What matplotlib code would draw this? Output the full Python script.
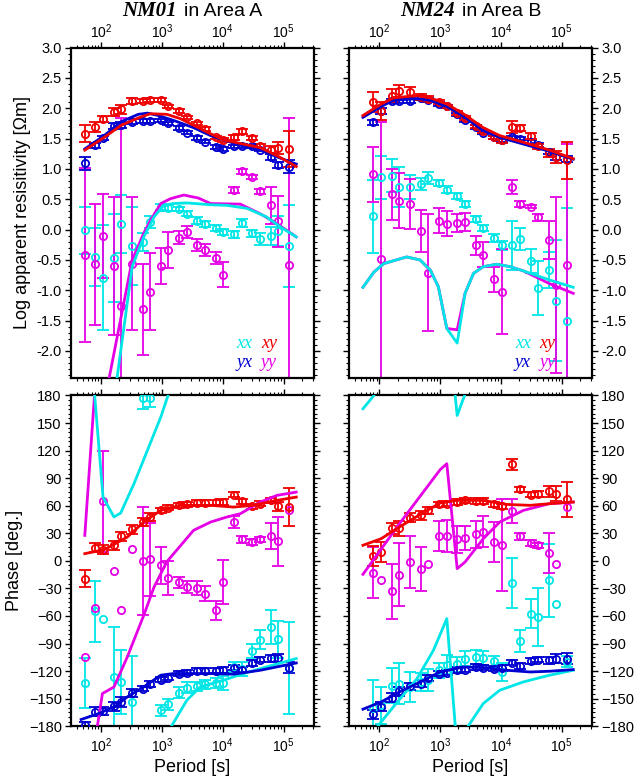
import numpy as np
import matplotlib.pyplot as plt
from matplotlib.ticker import MultipleLocator, LogLocator, NullFormatter, FormatStrFormatter
from matplotlib.offsetbox import TextArea, HPacker, AnchoredOffsetbox

plt.rcParams['font.family'] = ['Liberation Sans', 'DejaVu Sans']

C_XX = '#00e6e6'
C_XY = '#f00000'
C_YX = '#0000d0'
C_YY = '#e600e6'

# ---- periods [s]
period_a = [53.3, 80, 106.7, 160, 213.3, 320, 480, 640, 960, 1280, 1920, 2560, 3840, 5120,
            7680, 10240, 15360, 20480, 30720, 40960, 61440, 81920, 122880]
period_b = [80, 106.7, 160, 213.3, 320, 480, 640, 960, 1280, 1920, 2560, 3840, 5120,
            7680, 10240, 15360, 20480, 30720, 40960, 61440, 81920, 122880]

# ---- NM01 apparent resistivity (log10)
a_rho_xy = [1.58, 1.69, 1.82, 1.94, 1.98, 2.12, 2.12, 2.14, 2.14, 2.03, 1.95, 1.85, 1.75, 1.66,
            1.52, 1.48, 1.52, 1.62, 1.51, 1.37, 1.32, 1.35, 1.33]
a_rho_xy_err = [0.14, 0.08, 0.05, 0.06, 0.08, 0.05, 0.03, 0.03, 0.03, 0.03, 0.03, 0.03, 0.03, 0.03,
                0.03, 0.03, 0.04, 0.04, 0.04, 0.04, 0.06, 0.1, 0.3]
a_rho_yx = [1.09, 1.39, 1.51, 1.71, 1.73, 1.78, 1.79, 1.79, 1.80, 1.75, 1.67, 1.60, 1.51, 1.45,
            1.36, 1.33, 1.37, 1.38, 1.37, 1.32, 1.20, 1.07, 1.04]
a_rho_yx_err = [0.1, 0.04, 0.04, 0.05, 0.05, 0.04, 0.03, 0.03, 0.03, 0.03, 0.03, 0.03, 0.03, 0.03,
                0.03, 0.03, 0.03, 0.03, 0.03, 0.03, 0.05, 0.05, 0.1]
a_rho_xx = [-0.01, -0.45, -0.79, -0.47, 0.09, -0.27, -0.21, 0.12, 0.37, 0.36, 0.34, 0.26, 0.15, 0.10,
            0.02, -0.04, -0.08, 0.11, -0.06, -0.16, -0.11, -0.02, -0.27]
a_rho_xx_err = [0.39, 0.48, 0.87, 0.72, 0.48, 0.65, 0.15, 0.1, 0.05, 0.05, 0.04, 0.04, 0.05, 0.05,
                0.05, 0.05, 0.05, 0.06, 0.06, 0.1, 0.15, 0.25, 0.67]
a_rho_yy = [-0.42, -0.57, -0.11, -0.60, -1.26, -0.56, -1.31, -1.02, -0.60, -0.34, -0.13, -0.04, -0.26,
            -0.33, -0.47, -0.74, 0.65, 0.96, 0.87, 0.63, 0.40, 0.14, -0.59]
a_rho_yy_err = [1.43, 1.0, 0.69, 1.14, 3.1, 1.1, 0.75, 0.63, 0.3, 0.3, 0.1, 0.1, 0.1, 0.1,
                0.1, 0.2, 0.05, 0.04, 0.03, 0.04, 0.3, 0.42, 2.43]

# ---- NM01 phase [deg]
a_ph_xy = [-19.4, 14.3, 12.1, 16.9, 26.6, 34.3, 42.2, 47.7, 54.9, 57.8, 60.4, 61.4, 62.9, 62.9,
           63.6, 63.9, 72.0, 64.7, 59.3, 62.2, 65.8, 59.3, 58.5]
a_ph_xy_err = [9, 5, 5, 5, 5, 5, 4, 4, 3, 3, 3, 3, 3, 3, 3, 3, 3, 3, 3, 3, 3, 5, 21]
a_ph_yx = [-178.2, -164.4, -163.3, -158.3, -153.6, -143.8, -139.0, -134.3, -129.2, -127.1, -122.7,
           -121.6, -120.2, -119.9, -119.5, -119.1, -116.2, -118.4, -111.2, -107.5, -106.1, -105.7, -116.6]
a_ph_yx_err = [3, 5, 4, 5, 5, 4, 3, 3, 3, 3, 3, 3, 3, 3, 3, 3, 3, 3, 3, 3, 4, 4, 6]
a_ph_xx = [-132.9, -54.9, -62.9, -126.4, -131.8, -153.6, 177.5, 177.5, -162.6, -156.1, -143.8, -138.4,
           -136.5, -134.3, -132.9, -132.9, -115.5, -117.7, -98.1, -85.7, -72.0, -85.4, -116.6]
a_ph_xx_err = [27, 33, 0, 54, 35, 50, 12, 10, 6, 6, 6, 6, 5, 5, 5, 8, 5, 8, 8, 10, 18, 20, 50]
a_ph_yy = [-104.6, -50.9, 64.7, -11.3, -53.9, 13.3, -0.5, 1.6, -4.9, -18.7, -23.1, -28.5, -29.6,
           -35.7, -53.9, -23.1, 42.2, 23.4, 20.5, 23.4, 27.0, 21.2, 55]
a_ph_yy_err = [0, 0, 55, 0, 0, 0, 59, 40, 20, 19, 6, 6, 8, 8, 10, 24, 7, 4, 3, 3, 14, 27, 0]

# ---- NM24 apparent resistivity (log10)
b_rho_xy = [2.10, 1.95, 2.21, 2.29, 2.27, 2.18, 2.16, 2.10, 2.03, 1.92, 1.84, 1.70, 1.62, 1.52,
            1.47, 1.69, 1.68, 1.54, 1.37, 1.26, 1.20, 1.14]
b_rho_xy_err = [0.16, 0.15, 0.1, 0.1, 0.08, 0.05, 0.05, 0.03, 0.03, 0.03, 0.03, 0.03, 0.03, 0.03,
                0.04, 0.1, 0.05, 0.05, 0.04, 0.07, 0.1, 0.3]
b_rho_yx = [1.77, 1.95, 2.12, 2.12, 2.12, 2.17, 2.14, 2.07, 2.03, 1.90, 1.81, 1.69, 1.60, 1.52,
            1.47, 1.52, 1.50, 1.44, 1.39, 1.28, 1.20, 1.16]
b_rho_yx_err = [0.04, 0.05, 0.03, 0.03, 0.03, 0.03, 0.03, 0.03, 0.03, 0.03, 0.03, 0.03, 0.03, 0.03,
                0.03, 0.03, 0.03, 0.03, 0.03, 0.04, 0.05, 0.05]
b_rho_xx = [0.22, 0.86, 0.89, 0.70, 0.70, 0.75, 0.85, 0.77, 0.66, 0.55, 0.43, 0.18, 0.03, -0.14,
            -0.26, -0.26, -0.16, -0.52, -0.96, -0.67, -1.17, -1.51]
b_rho_xx_err = [0.6, 0.35, 0.27, 0.33, 0.2, 0.1, 0.1, 0.05, 0.06, 0.05, 0.05, 0.05, 0.05, 0.06,
                0.07, 0.4, 0.18, 0.2, 0.45, 0.3, 1.0, 1.86]
b_rho_yy = [0.91, -0.48, 0.58, 0.48, 0.42, -0.02, -0.71, 0.15, 0.10, 0.11, 0.12, -0.26, -0.41, -0.82,
            -1.02, 0.70, 0.43, 0.38, 0.20, -0.17, -0.91, -0.59]
b_rho_yy_err = [0.45, 2.25, 0.42, 0.45, 0.41, 0.35, 0.96, 0.2, 0.2, 0.15, 0.15, 0.15, 0.2, 0.2,
                0.7, 0.12, 0.05, 0.03, 0.05, 0.32, 1.45, 2.0]

# ---- NM24 phase [deg]
b_ph_xy = [4.9, 9.6, 35.7, 35.3, 47.0, 49.5, 54.9, 61.4, 62.2, 64.0, 65.8, 65.0, 65.0, 61.4,
           59.3, 104.9, 77.8, 72.0, 73.0, 75.9, 73.0, 66.9]
b_ph_xy_err = [11, 11, 6, 8, 5, 5, 4, 3, 3, 3, 3, 3, 3, 3, 3, 6, 3, 3, 3, 6, 8, 19]
b_ph_yx = [-167, -159, -149.2, -142, -136.5, -133.6, -127.5, -122.7, -121.6, -119.1, -118.4, -115.5,
           -116.2, -117.3, -116.6, -110.8, -114.4, -109.3, -107.5, -108.2, -106.4, -106.4]
b_ph_yx_err = [5, 5, 5, 5, 4, 4, 3, 3, 3, 3, 3, 3, 3, 3, 3, 3, 3, 3, 3, 4, 5, 6]
b_ph_xx = [-160, -157.2, -136.2, -133.6, -137.3, -131.8, -130, -119.1, -112.9, -112.5, -106.4,
           -104.6, -105.7, -109.3, -121, -24.0, -87.6, -57.4, -61.1, -21.2, -46.6, -110]
b_ph_xx_err = [30, 20, 19, 22, 16, 10, 12, 8, 10, 8, 8, 8, 8, 6, 10, 27, 12, 16, 32, 40, 0, 6]
b_ph_yy = [-12.9, -21.2, -33.2, -15.0, -1.3, -9.3, -3.1, 27.0, 27.0, 23.4, 25.2, 28.8, 31.7, 20.5,
           17.6, 53.8, 26.6, 19.4, 16.9, 8.5, -3.8, 58.5]
b_ph_yy_err = [28, 0, 30, 34, 28, 24, 0, 16, 17, 15, 13, 15, 17, 22, 50, 13, 4, 3, 3, 22, 0, 0]

# ---- model responses (log10 period, value); nan breaks a wrapped phase line
a_mod_rho_xy_t = [1.73, 2.05, 2.33, 2.61, 2.81, 3.08, 3.30, 3.52, 3.80, 4.01, 4.29, 4.62, 4.89, 5.21]
a_mod_rho_xy = [1.31, 1.52, 1.72, 1.84, 1.91, 1.90, 1.83, 1.72, 1.58, 1.48, 1.42, 1.35, 1.22, 1.04]
a_mod_rho_yx_t = [1.73, 2.05, 2.33, 2.61, 2.76, 2.94, 3.19, 3.52, 3.80, 4.01, 4.29, 4.62, 4.89, 5.21]
a_mod_rho_yx = [1.33, 1.55, 1.78, 1.90, 1.92, 1.88, 1.80, 1.68, 1.55, 1.48, 1.39, 1.31, 1.20, 1.08]
a_mod_rho_xx_t = [2.15, 2.26, 2.51, 2.70, 2.87, 3.03, 3.19, 3.41, 3.80, 4.07, 4.40, 4.72, 4.94, 5.21]
a_mod_rho_xx = [-3.5, -2.45, -0.61, -0.12, 0.21, 0.40, 0.43, 0.44, 0.41, 0.40, 0.35, 0.21, 0.05, -0.12]
a_mod_rho_yy_t = [2.0, 2.13, 2.51, 2.70, 2.81, 2.98, 3.14, 3.36, 3.60, 3.80, 4.29, 4.62, 4.89, 5.21]
a_mod_rho_yy = [-3.5, -2.45, -0.50, -0.06, 0.15, 0.43, 0.51, 0.57, 0.52, 0.43, 0.42, 0.26, 0.10, -0.12]

a_mod_ph_xy_t = [1.73, 2.05, 2.43, 2.70, 2.98, 3.30, 3.80, 4.18, 4.50, 4.89, 5.21]
a_mod_ph_xy = [7.8, 12.1, 25.9, 42.2, 54.9, 60.4, 60.4, 58.5, 60.4, 65.8, 69.4]
a_mod_ph_yx_t = [1.67, 1.96, 2.24, 2.43, 2.70, 2.98, 3.19, 3.80, 4.18, 4.62, 5.21]
a_mod_ph_yx = [-172.7, -166.2, -157.9, -148.1, -137.3, -124.5, -122.7, -122.7, -123.4, -119.1, -111.2]
a_mod_ph_xx_t = [1.88, 2.03, 2.21, 2.32, 2.54, 2.76, 2.98, 3.12, 3.12, 3.12, 3.41, 3.63, 4.01, 4.34,
                 4.72, 5.21]
a_mod_ph_xx = [190, 69.4, 47.7, 52, 84, 120.2, 156.4, 184, np.nan, -184, -151.7, -137.3, -130, -122.7,
               -115.5, -106.4]
a_mod_ph_yy_t = [1.73, 1.90, 1.90, 1.925, 2.02, 2.21, 2.43, 2.70, 2.87, 3.08, 3.52, 3.80, 4.07, 4.29,
                 4.62, 4.89, 5.21]
a_mod_ph_yy = [27.7, 190, np.nan, -185, -144.5, -137.3, -104.6, -59.3, -28.5, -1, 33.2, 42.2, 47.7,
               51.3, 64, 71.2, 74.8]

b_mod_rho_t = [1.73, 2.03, 2.23, 2.62, 2.84, 3.11, 3.38, 3.71, 3.98, 4.37, 4.80, 5.19]
b_mod_rho_xy = [1.88, 2.07, 2.17, 2.21, 2.17, 2.07, 1.91, 1.68, 1.55, 1.44, 1.31, 1.17]
b_mod_rho_yx = [1.85, 2.03, 2.13, 2.16, 2.13, 2.03, 1.87, 1.63, 1.52, 1.41, 1.29, 1.16]
b_mod_rho_d_t = [1.73, 1.91, 2.07, 2.45, 2.67, 2.84, 2.97, 3.11, 3.28, 3.41, 3.55, 3.71, 3.93, 4.15,
                 4.37, 4.80, 5.19]
b_mod_rho_xx = [-0.95, -0.70, -0.56, -0.45, -0.50, -0.67, -0.94, -1.63, -1.87, -1.05, -0.72, -0.61,
                -0.57, -0.61, -0.68, -0.83, -0.95]
b_mod_rho_yy = [-0.95, -0.70, -0.56, -0.45, -0.50, -0.67, -0.94, -1.63, -1.65, -1.05, -0.72, -0.61,
                -0.57, -0.61, -0.68, -0.89, -1.05]

b_mod_ph_xy_t = [1.73, 2.03, 2.33, 2.62, 3.00, 3.27, 3.71, 4.09, 4.48, 4.80, 5.19]
b_mod_ph_xy = [16.9, 24.1, 36.8, 48.4, 62.9, 65.8, 65.8, 61.4, 60.4, 62.2, 64.0]
b_mod_ph_yx_t = [1.73, 2.03, 2.33, 2.62, 3.00, 3.38, 3.71, 4.09, 4.48, 4.80, 5.19]
b_mod_ph_yx = [-161.5, -153.6, -142.7, -133.6, -121, -115.5, -116.2, -119.1, -121, -120.2, -118.4]
b_mod_ph_yy_t = [1.73, 2.33, 3.00, 3.11, 3.28, 3.41, 3.71, 3.98, 4.37, 4.80, 5.19]
b_mod_ph_yy = [-14.7, 40.4, 99.2, 105.7, -8.5, -1.3, 24.1, 42.2, 54.9, 62.2, 64.0]
b_mod_ph_xx_t = [1.73, 1.91, 1.93, 1.93, 1.95, 2.23, 2.62, 2.89, 3.11, 3.255, 3.255, 3.24, 3.28, 3.43,
                 3.43, 3.41, 3.71, 3.98, 4.37, 4.80, 5.19]
b_mod_ph_xx = [165.5, 180, 185, np.nan, -182, -159, -128.1, -97.4, -62.9, -185, np.nan, 185, 158.2, 185,
               np.nan, -185, -155.3, -140.9, -131.8, -124.5, -119.1]


def plot_data(ax, T, v, e, c):
    T = np.array(T, float)
    v = np.array(v, float)
    e = np.array(e, float)
    m = e > 0
    ax.errorbar(T[m], v[m], yerr=e[m], fmt='none', ecolor=c, elinewidth=1.3,
                capsize=4, capthick=1.3, zorder=2)
    ax.plot(T, v, 'o', ms=5.2, mfc='none', mec=c, mew=1.3, zorder=3)


def plot_model(ax, logt, v, c):
    ax.plot(10 ** np.array(logt, float), v, '-', color=c, lw=2.0, zorder=4)


def style(ax, top, right):
    ax.set_xscale('log')
    ax.set_xlim(10 ** 1.5, 10 ** 5.5)
    ax.xaxis.set_major_locator(LogLocator(base=10, numticks=10))
    ax.xaxis.set_minor_locator(LogLocator(base=10, subs=np.arange(2, 10), numticks=10))
    ax.xaxis.set_minor_formatter(NullFormatter())
    ax.tick_params(which='both', direction='out', top=True, bottom=True, left=True, right=True,
                   labeltop=top, labelbottom=not top, labelleft=not right, labelright=right,
                   labelsize=10.5, pad=2)
    ax.tick_params(axis='x', which='major', pad=0.5 if top else 3, labelsize=10)
    ax.tick_params(which='major', length=4.5, width=1.0)
    ax.tick_params(which='minor', length=2.5, width=0.8)
    for s in ax.spines.values():
        s.set_linewidth(1.6)


fig = plt.figure(figsize=(6.38, 7.8), dpi=100)
ax_ra = fig.add_axes([0.111, 0.515, 0.381, 0.424])
ax_rb = fig.add_axes([0.547, 0.515, 0.381, 0.424])
ax_pa = fig.add_axes([0.111, 0.069, 0.381, 0.424])
ax_pb = fig.add_axes([0.547, 0.069, 0.381, 0.424])

# resistivity panels
for ax, T, d, mods in [
    (ax_ra, period_a,
     [(a_rho_xx, a_rho_xx_err, C_XX), (a_rho_yy, a_rho_yy_err, C_YY),
      (a_rho_yx, a_rho_yx_err, C_YX), (a_rho_xy, a_rho_xy_err, C_XY)],
     [(a_mod_rho_yy_t, a_mod_rho_yy, C_YY), (a_mod_rho_xx_t, a_mod_rho_xx, C_XX),
      (a_mod_rho_yx_t, a_mod_rho_yx, C_YX), (a_mod_rho_xy_t, a_mod_rho_xy, C_XY)]),
    (ax_rb, period_b,
     [(b_rho_xx, b_rho_xx_err, C_XX), (b_rho_yy, b_rho_yy_err, C_YY),
      (b_rho_yx, b_rho_yx_err, C_YX), (b_rho_xy, b_rho_xy_err, C_XY)],
     [(b_mod_rho_d_t, b_mod_rho_yy, C_YY), (b_mod_rho_d_t, b_mod_rho_xx, C_XX),
      (b_mod_rho_t, b_mod_rho_yx, C_YX), (b_mod_rho_t, b_mod_rho_xy, C_XY)]),
]:
    for v, e, c in d:
        plot_data(ax, T, v, e, c)
    for t, v, c in mods:
        plot_model(ax, t, v, c)
    ax.set_ylim(-2.45, 3.0)
    ax.yaxis.set_major_locator(MultipleLocator(0.5))
    ax.yaxis.set_minor_locator(MultipleLocator(0.1))
    ax.yaxis.set_major_formatter(FormatStrFormatter('%.1f'))

# phase panels
for ax, T, d, mods in [
    (ax_pa, period_a,
     [(a_ph_xx, a_ph_xx_err, C_XX), (a_ph_yy, a_ph_yy_err, C_YY),
      (a_ph_yx, a_ph_yx_err, C_YX), (a_ph_xy, a_ph_xy_err, C_XY)],
     [(a_mod_ph_yy_t, a_mod_ph_yy, C_YY), (a_mod_ph_xx_t, a_mod_ph_xx, C_XX),
      (a_mod_ph_yx_t, a_mod_ph_yx, C_YX), (a_mod_ph_xy_t, a_mod_ph_xy, C_XY)]),
    (ax_pb, period_b,
     [(b_ph_xx, b_ph_xx_err, C_XX), (b_ph_yy, b_ph_yy_err, C_YY),
      (b_ph_yx, b_ph_yx_err, C_YX), (b_ph_xy, b_ph_xy_err, C_XY)],
     [(b_mod_ph_yy_t, b_mod_ph_yy, C_YY), (b_mod_ph_xx_t, b_mod_ph_xx, C_XX),
      (b_mod_ph_yx_t, b_mod_ph_yx, C_YX), (b_mod_ph_xy_t, b_mod_ph_xy, C_XY)]),
]:
    for v, e, c in d:
        plot_data(ax, T, v, e, c)
    for t, v, c in mods:
        plot_model(ax, t, v, c)
    ax.set_ylim(-180, 180)
    ax.yaxis.set_major_locator(MultipleLocator(30))
    ax.yaxis.set_minor_locator(MultipleLocator(5))

style(ax_ra, top=True, right=False)
style(ax_rb, top=True, right=True)
style(ax_pa, top=False, right=False)
style(ax_pb, top=False, right=True)

ax_ra.set_ylabel('Log apparent resisitivity [\u03a9m]', fontsize=13, labelpad=4)
ax_pa.set_ylabel('Phase [deg.]', fontsize=13, labelpad=4)
ax_pa.set_xlabel('Period [s]', fontsize=13, labelpad=3)
ax_pb.set_xlabel('Period [s]', fontsize=13, labelpad=3)

# titles: bold italic station name + plain text
for ax, name, area in [(ax_ra, 'NM01', 'in Area A'), (ax_rb, 'NM24', 'in Area B')]:
    box = HPacker(children=[
        TextArea(name, textprops=dict(family='Liberation Serif', weight='bold', style='italic', size=15)),
        TextArea(area, textprops=dict(size=14))], align='baseline', pad=0, sep=5)
    ab = AnchoredOffsetbox(loc='lower center', child=box, pad=0, borderpad=0, frameon=False,
                           bbox_to_anchor=(0.5, 1.08), bbox_transform=ax.transAxes)
    ax.add_artist(ab)

# component labels
for ax in [ax_ra, ax_rb]:
    for txt, c, x, y in [('xx', C_XX, 0.715, 0.106), ('xy', C_XY, 0.815, 0.106),
                         ('yx', C_YX, 0.715, 0.048), ('yy', C_YY, 0.815, 0.048)]:
        ax.text(x, y, txt, color=c, transform=ax.transAxes, ha='center', va='center',
                family='Liberation Serif', style='italic', fontsize=13, zorder=6)

fig.savefig('out.png', dpi=100)
